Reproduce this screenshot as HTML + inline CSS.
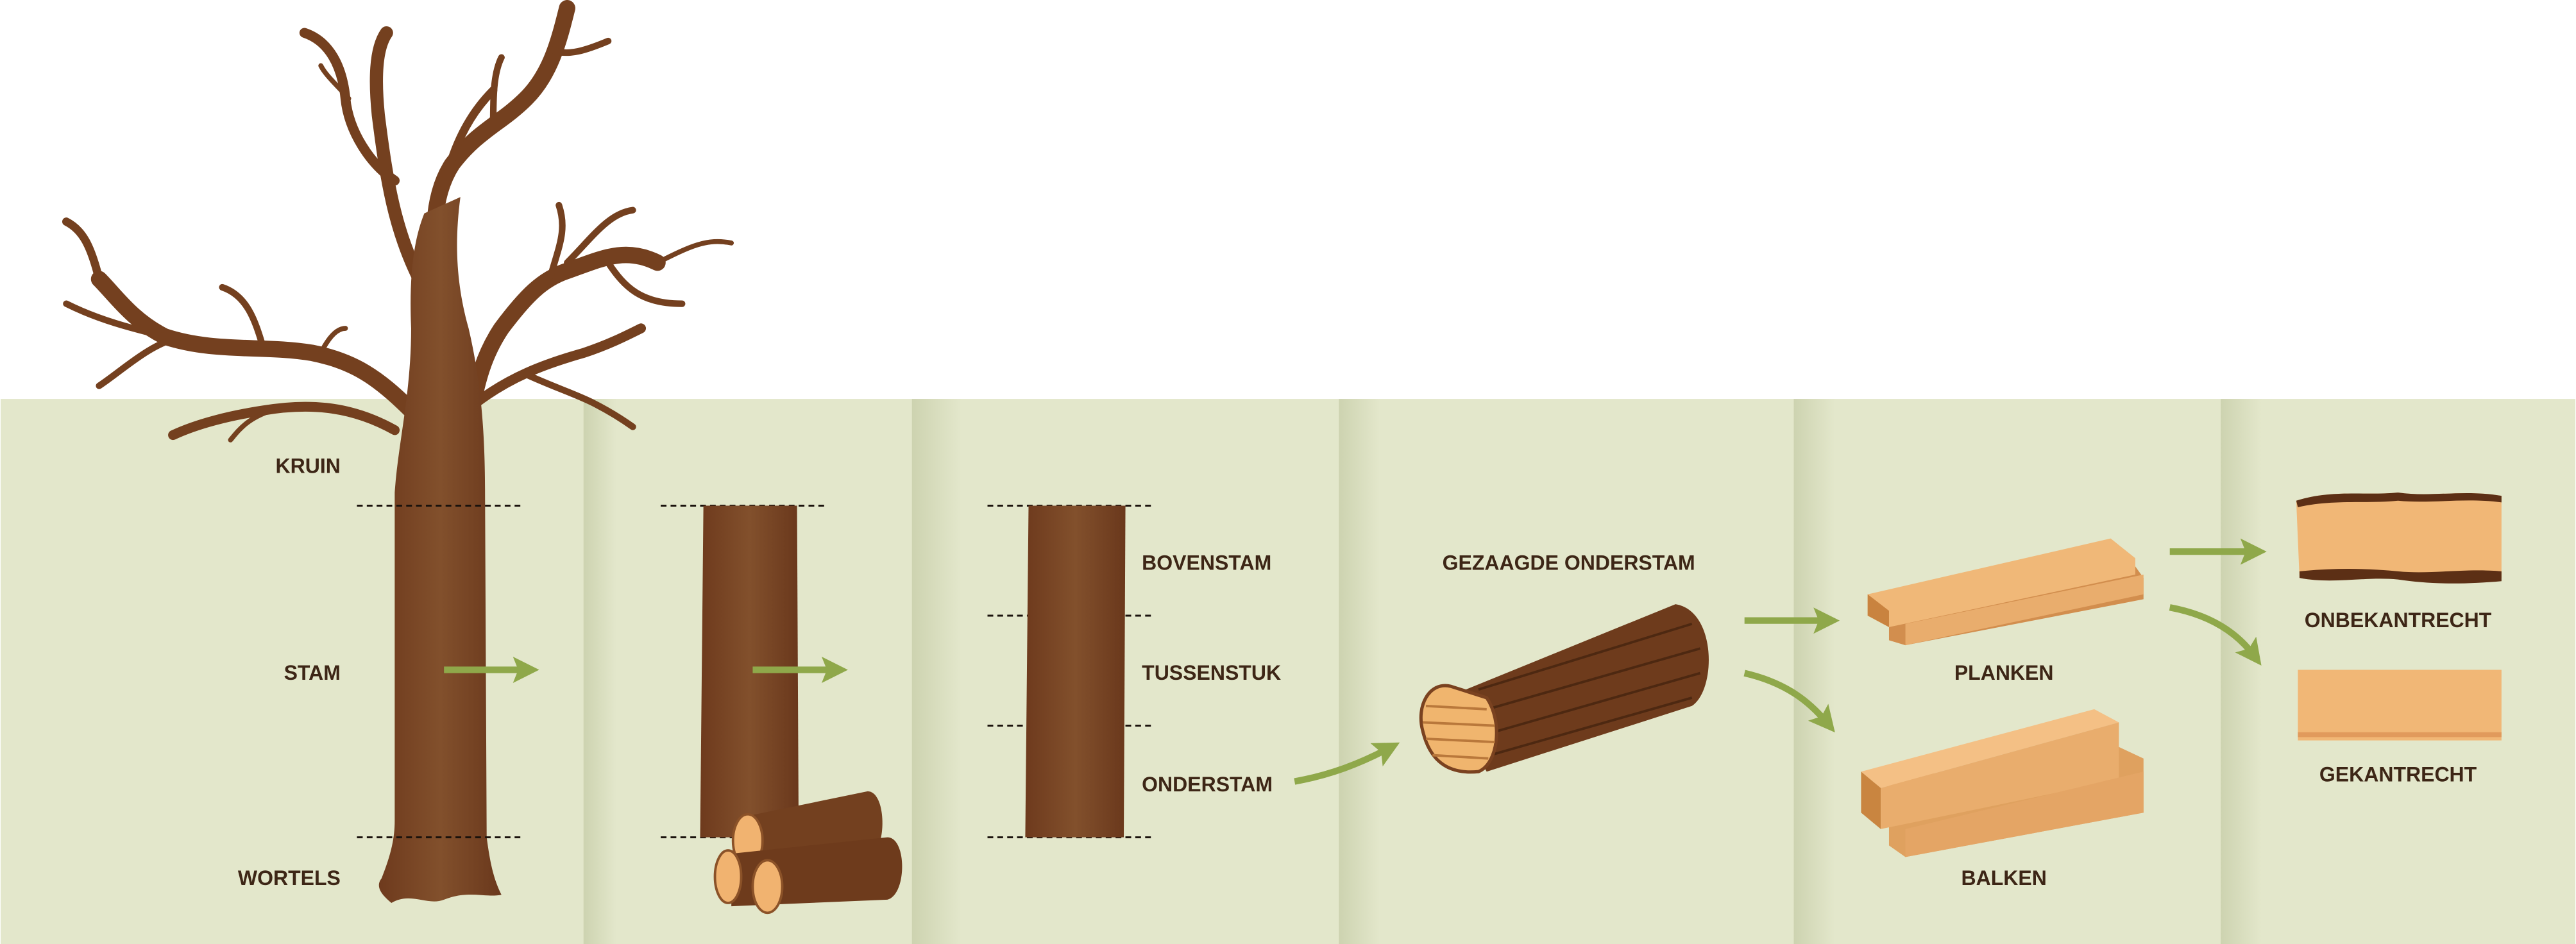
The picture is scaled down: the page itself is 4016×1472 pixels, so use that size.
<!DOCTYPE html>
<html><head><meta charset="utf-8"><style>
html,body{margin:0;padding:0;background:#fff}
svg{display:block}
text{font-family:"Liberation Sans",sans-serif;font-weight:bold;fill:#3d2616;font-size:12.5px}
</style></head><body>
<svg width="4016" height="1472" viewBox="0 0 1568 575" xmlns="http://www.w3.org/2000/svg">
<defs>
<linearGradient id="sh" x1="0" x2="1"><stop offset="0" stop-color="#cdd3b0"/><stop offset="1" stop-color="#e3e7cb"/></linearGradient>
<linearGradient id="bark" x1="0" x2="1"><stop offset="0" stop-color="#6e3a1d"/><stop offset=".5" stop-color="#82502c"/><stop offset="1" stop-color="#6a381c"/></linearGradient>
<marker id="ah" markerWidth="4" markerHeight="4" refX="2" refY="2" orient="auto" markerUnits="strokeWidth"><path d="M0,0 L4,2 L0,4 L0.8,2Z" fill="#8fa84a"/></marker>
</defs>
<rect x="0" y="243" width="1568" height="332" fill="#e3e7cb"/>
<rect x="355" y="243" width="20" height="332" fill="url(#sh)"/>
<rect x="555" y="243" width="30" height="332" fill="url(#sh)"/>
<rect x="815" y="243" width="25" height="332" fill="url(#sh)"/>
<rect x="1092" y="243" width="25" height="332" fill="url(#sh)"/>
<rect x="1352" y="243" width="25" height="332" fill="url(#sh)"/>

<!-- tree -->
<g fill="none" stroke="#74401f" stroke-linecap="round" stroke-linejoin="round">
<path d="M268,180 C262,150 262,120 275,100 C290,80 305,75 320,60 C335,45 340,25 345,5" stroke-width="10"/>
<path d="M255,170 C240,140 235,110 230,70 C228,50 228,30 235,20" stroke-width="8"/>
<path d="M240,110 C225,100 212,80 210,60 C208,40 200,25 185,20" stroke-width="6"/>
<path d="M300,75 C300,60 300,45 305,35" stroke-width="4"/>
<path d="M335,30 C345,35 358,30 370,25" stroke-width="4"/>
<path d="M212,60 C205,52 198,46 195,40" stroke-width="3"/>
<path d="M250,250 C230,230 215,220 190,215 C160,210 130,215 100,205 C80,195 70,180 60,170" stroke-width="10"/>
<path d="M60,170 C55,150 50,140 40,135" stroke-width="5"/>
<path d="M100,205 C80,200 60,195 40,185" stroke-width="4"/>
<path d="M110,205 C90,210 75,225 60,235" stroke-width="4"/>
<path d="M160,212 C155,195 150,180 135,175" stroke-width="4"/>
<path d="M195,215 C200,205 205,200 210,200" stroke-width="3"/>
<path d="M240,262 C215,248 190,245 160,250 C140,253 120,258 105,265" stroke-width="6"/>
<path d="M165,250 C150,255 145,262 140,268" stroke-width="3"/>
<path d="M285,260 C290,230 295,215 305,200 C320,180 330,170 345,165 C365,158 380,150 400,160" stroke-width="10"/>
<path d="M335,168 C340,150 345,140 340,125 M345,160 C360,145 370,130 385,128" stroke-width="4"/>
<path d="M370,160 C380,175 390,185 415,185" stroke-width="4"/>
<path d="M400,160 C420,150 430,145 445,148" stroke-width="3"/>
<path d="M290,245 C310,230 330,222 355,215 C370,210 380,205 390,200" stroke-width="6"/>
<path d="M320,228 C335,235 350,240 360,245 C370,250 378,255 385,260" stroke-width="4"/>
<path d="M270,115 C275,90 285,70 300,55" stroke-width="5"/>
</g>
<path d="M240,300 C242,270 250,240 250,200 C249,175 250,150 258,130 L280,120 C276,150 278,175 285,200 C292,230 295,260 295,300 L296,510 C298,525 300,535 305,545 C295,547 285,542 270,548 C260,552 250,543 238,550 C232,545 228,540 232,535 C238,520 240,510 240,500 Z" fill="url(#bark)"/>

<!-- dashed lines -->
<g stroke="#1a120c" stroke-width="1.2" stroke-dasharray="3.5,2.5">
<line x1="217" y1="308" x2="318" y2="308"/><line x1="217" y1="510" x2="318" y2="510"/>
<line x1="402" y1="308" x2="504" y2="308"/><line x1="402" y1="510" x2="504" y2="510"/>
<line x1="601" y1="308" x2="703" y2="308"/><line x1="601" y1="375" x2="703" y2="375"/><line x1="601" y1="442" x2="703" y2="442"/><line x1="601" y1="510" x2="703" y2="510"/>
</g>
<!-- trunks -->
<path d="M428,308 L485,308 L486,510 L426,510 Z" fill="url(#bark)"/>
<path d="M626,308 L685,308 L684,510 L624,510 Z" fill="url(#bark)"/>
<!-- logs -->
<g>
<path d="M455,497 L528,482 C540,482 540,520 528,522 L455,528 Z" fill="#73401f"/>
<ellipse cx="455" cy="512" rx="9" ry="16" fill="#f1b370" stroke="#8b5228" stroke-width="1.5"/>
<path d="M445,520 L540,510 C552,510 552,545 540,548 L445,552 Z" fill="#6e3b1c"/>
<ellipse cx="443" cy="534" rx="8" ry="16" fill="#f1b370" stroke="#8b5228" stroke-width="1.5"/>
<ellipse cx="467" cy="540" rx="9" ry="16" fill="#f1b370" stroke="#8b5228" stroke-width="1.5"/>
</g>
<!-- arrows -->
<g stroke="#8fa84a" stroke-width="4" fill="none">
<path d="M270,408 L320,408" marker-end="url(#ah)"/>
<path d="M458,408 L508,408" marker-end="url(#ah)"/>
<path d="M788,476 C810,472 828,465 845,456" marker-end="url(#ah)"/>
<path d="M1062,378 L1112,378" marker-end="url(#ah)"/>
<path d="M1062,410 C1088,416 1102,428 1112,440" marker-end="url(#ah)"/>
<path d="M1321,336 L1372,336" marker-end="url(#ah)"/>
<path d="M1321,370 C1348,375 1363,387 1372,399" marker-end="url(#ah)"/>
</g>
<!-- sawn log -->
<g>
<path d="M880,425 L1020,368 C1045,372 1045,420 1030,430 L905,470 Z" fill="#6e3b1c"/>
<path d="M900,420 L1030,380 M895,435 L1035,395 M895,450 L1035,410 M900,462 L1030,425" stroke="#4d2811" stroke-width="1.5"/>
<path d="M883,418 C870,415 862,430 866,445 C870,462 880,472 900,470 C912,465 915,440 905,425 Z" fill="#f0b56e" stroke="#7a4220" stroke-width="2"/>
<path d="M868,430 L905,432 M866,440 L910,442 M868,450 L910,452 M872,460 L906,462" stroke="#b9783b" stroke-width="1.5"/>
</g>
<!-- planks -->
<g>
<polygon points="1150,380 1300,345 1305,352 1305,365 1160,393 1150,390" fill="#d28e4e"/>
<polygon points="1137,362 1285,328 1300,340 1300,350 1150,382 1137,375" fill="#f0b878"/>
<polygon points="1137,362 1150,372 1150,382 1137,375" fill="#c9833f"/>
<polygon points="1160,380 1305,350 1305,362 1160,393" fill="#e9ad6d"/>
</g>
<!-- beams -->
<g>
<polygon points="1150,475 1290,455 1305,462 1305,495 1160,522 1150,515" fill="#dfa15f"/>
<polygon points="1133,470 1275,432 1290,440 1145,480" fill="#f4c085"/>
<polygon points="1133,470 1145,480 1145,505 1133,495" fill="#c98540"/>
<polygon points="1145,480 1290,440 1290,475 1145,505" fill="#e9ad6d"/>
<polygon points="1160,505 1305,470 1305,495 1160,522" fill="#e4a565"/>
</g>
<!-- boards -->
<path d="M1398,305 C1420,298 1440,302 1460,300 C1480,303 1500,298 1523,302 L1523,352 C1500,350 1480,356 1460,352 C1440,350 1420,356 1400,352 Z" fill="#f1b776"/>
<path d="M1398,305 C1420,298 1440,302 1460,300 C1480,303 1500,298 1523,302 L1523,306 C1500,303 1480,307 1460,305 C1440,307 1420,304 1399,309 Z" fill="#5c2f15"/>
<path d="M1400,348 C1420,346 1440,346 1460,348 C1480,350 1500,346 1523,348 L1523,354 C1500,356 1480,356 1460,353 C1440,351 1420,356 1400,352 Z" fill="#5c2f15"/>
<rect x="1399" y="408" width="124" height="43" fill="#f1b776"/>
<rect x="1399" y="446" width="124" height="3" fill="#e19a5c"/>

<!-- labels -->
<g text-anchor="end">
<text x="207" y="288">KRUIN</text>
<text x="207" y="414">STAM</text>
<text x="207" y="539">WORTELS</text>
</g>
<text x="695" y="347">BOVENSTAM</text>
<text x="695" y="414">TUSSENSTUK</text>
<text x="695" y="482">ONDERSTAM</text>
<text x="878" y="347">GEZAAGDE ONDERSTAM</text>
<g text-anchor="middle">
<text x="1220" y="414">PLANKEN</text>
<text x="1220" y="539">BALKEN</text>
<text x="1460" y="382">ONBEKANTRECHT</text>
<text x="1460" y="476">GEKANTRECHT</text>
</g>
</svg>
</body></html>
